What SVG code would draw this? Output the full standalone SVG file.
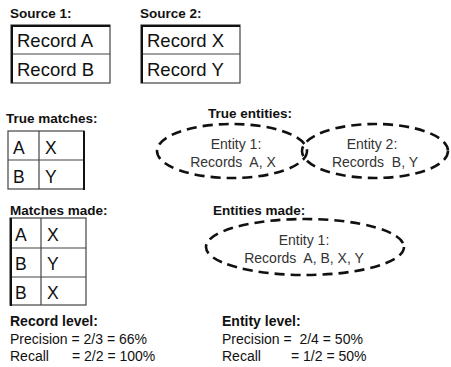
<svg xmlns="http://www.w3.org/2000/svg" width="451" height="367" viewBox="0 0 451 367">
<style>
text{font-family:"Liberation Sans",Arial,sans-serif;fill:#111;white-space:pre}
.t{font-weight:bold;font-size:13.5px}
.rec{font-size:18.5px}
.cell{font-size:17.5px}
.ent{font-size:14px;text-anchor:middle;fill:#333}
.m{font-size:14px}
.grid{fill:none;stroke:#444;stroke-width:1.2}
.edge{stroke:#111;stroke-width:2;fill:none}
.ell{fill:none;stroke:#111;stroke-width:2.6;stroke-dasharray:10 6}
</style>
<rect width="451" height="367" fill="#fff"/>
<g id="source1">
<text class="t" x="10" y="18">Source 1:</text>
<rect class="grid" x="11" y="25" width="99" height="58"/>
<line class="grid" x1="11" y1="54" x2="110" y2="54"/>
<path class="edge" d="M12 83V26H110"/>
<text class="rec" x="17" y="47">Record A</text>
<text class="rec" x="17" y="76">Record B</text>
</g>
<g id="source2">
<text class="t" x="140" y="18">Source 2:</text>
<rect class="grid" x="141" y="25" width="99" height="58"/>
<line class="grid" x1="141" y1="54" x2="240" y2="54"/>
<path class="edge" d="M142 83V26H240"/>
<text class="rec" x="147" y="47">Record X</text>
<text class="rec" x="147" y="76">Record Y</text>
</g>
<g id="true-matches">
<text class="t" x="6" y="123">True matches:</text>
<rect class="grid" x="8" y="131" width="76" height="58"/>
<line class="grid" x1="8" y1="160" x2="84" y2="160"/>
<line class="grid" x1="39" y1="131" x2="39" y2="189"/>
<line class="edge" x1="84" y1="131" x2="84" y2="190"/>
<text class="cell" x="13" y="154">A</text>
<text class="cell" x="45" y="154">X</text>
<text class="cell" x="13" y="183">B</text>
<text class="cell" x="45" y="183">Y</text>
</g>
<g id="matches-made">
<text class="t" x="10" y="215">Matches made:</text>
<rect class="grid" x="10" y="218" width="76" height="87"/>
<line class="grid" x1="10" y1="248" x2="86" y2="248"/>
<line class="grid" x1="10" y1="277" x2="86" y2="277"/>
<line class="grid" x1="41" y1="218" x2="41" y2="305"/>
<line class="edge" x1="11" y1="218" x2="11" y2="306"/>
<text class="cell" x="15" y="241">A</text>
<text class="cell" x="47" y="241">X</text>
<text class="cell" x="15" y="270">B</text>
<text class="cell" x="47" y="270">Y</text>
<text class="cell" x="15" y="299">B</text>
<text class="cell" x="47" y="299">X</text>
</g>
<g id="true-entities">
<text class="t" x="208" y="118">True entities:</text>
</g>
<g id="entity1">
<ellipse class="ell" cx="232" cy="151" rx="75" ry="27"/>
<text class="ent" x="236" y="149">Entity 1:</text>
<text class="ent" x="233" y="167">Records  A, X</text>
</g>
<g id="entity2">
<ellipse class="ell" cx="375" cy="151" rx="73" ry="27"/>
<text class="ent" x="372" y="149">Entity 2:</text>
<text class="ent" x="375" y="167">Records  B, Y</text>
</g>
<g id="entities-made">
<text class="t" x="213" y="215">Entities made:</text>
<ellipse class="ell" cx="305" cy="247" rx="99" ry="28"/>
<text class="ent" x="304" y="245">Entity 1:</text>
<text class="ent" x="304" y="263">Records  A, B, X, Y</text>
</g>
<g id="record-level">
<text class="t" x="10" y="326" style="font-size:14px">Record level:</text>
<text class="m" x="10" y="344">Precision = 2/3 = 66%</text>
<text class="m" x="10" y="361">Recall<tspan x="72">= 2/2 = 100%</tspan></text>
</g>
<g id="entity-level">
<text class="t" x="222" y="326" style="font-size:14px">Entity level:</text>
<text class="m" x="222" y="344">Precision =  2/4 = 50%</text>
<text class="m" x="222" y="361">Recall<tspan x="291">= 1/2 = 50%</tspan></text>
</g>
</svg>
